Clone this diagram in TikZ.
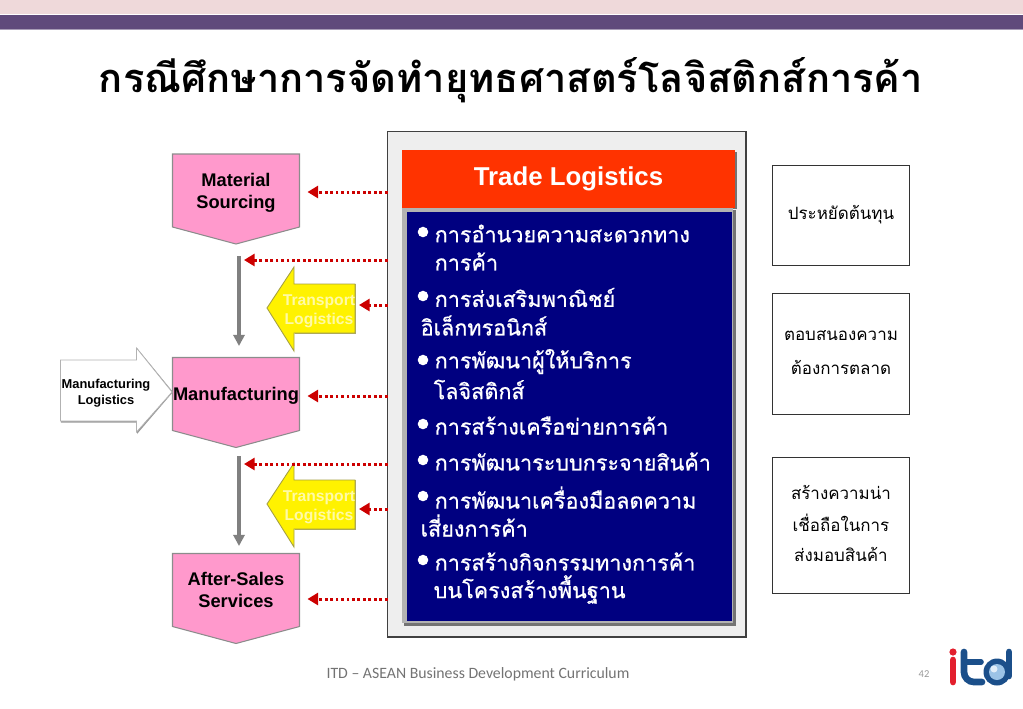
\documentclass[tikz,border=0pt]{standalone}
\usepackage{fontspec}
\setmainfont{Liberation Sans}
\newfontfamily\thaifont[Script=Thai]{Loma}
\newfontfamily\thaiheavy[Script=Thai,FakeBold=0.7]{Loma}
\newfontfamily\footfont{Carlito}
\usetikzlibrary{arrows.meta,calc}
\definecolor{bandpink}{HTML}{EFD9DA}
\definecolor{bandpurple}{HTML}{604A7B}
\definecolor{boxpink}{HTML}{FF99CC}
\definecolor{panelgray}{HTML}{EEEEEE}
\definecolor{headorange}{HTML}{FF3300}
\definecolor{listnavy}{HTML}{000080}
\definecolor{dotred}{HTML}{CC0000}
\definecolor{logoblue}{HTML}{1B4F8A}
\definecolor{logored}{HTML}{E31F2D}
\definecolor{globeblue}{HTML}{9CC3E6}
\tikzset{
	pinkbox/.style={draw=black!45, fill=boxpink, line width=0.3pt},
	pinklabel/.style={align=center, font=\fontsize{5.2}{6.25}\selectfont\bfseries, inner sep=0pt},
	yellowbox/.style={draw=yellow!60!black, fill=yellow, line width=0.25pt},
	yellowlabel/.style={align=center, text=yellow!35!white, font=\fontsize{4.45}{5.5}\selectfont\bfseries, inner sep=0pt},
	dotarrow/.style={draw=dotred, line width=0.85pt, dash pattern=on 0.8pt off 0.75pt, -{Triangle[length=3pt,width=3.4pt,fill=dotred]}},
	grayarrow/.style={draw=black!50, line width=1.15pt, -{Triangle[length=3.2pt,width=3.2pt]}},
	listline/.style={anchor=west, text=white, inner sep=0pt, font=\fontsize{6.14}{8}\selectfont\thaiheavy},
	listdot/.style={circle, fill=white, minimum size=3pt, inner sep=0pt},
	sidebox/.style={draw=black!80, line width=0.25pt, fill=white, inner sep=0pt, anchor=north west},
	sideline/.style={inner sep=0pt, font=\fontsize{4.82}{6}\selectfont\thaifont},
}
\def\pentabox(#1,#2,#3)#4#5{
	\draw[pinkbox] (#1,#2) -- (#1+127,#2) -- (#1+127,#2+73) -- (#1+63.5,#2+90) -- (#1,#2+73) -- cycle;
	\node[pinklabel] (#4) at (#1+63.5,#2+#3) {#5};
}
\def\yellowarrow(#1,#2)#3{
	\fill[yellow!45!black!70] (#1+28,#2-24) -- (#1+89,#2-24) -- (#1+89,#2+26) -- (#1+28,#2+26) -- cycle;
	\draw[yellowbox] (#1,#2) -- (#1+27,#2-41) -- (#1+27,#2-24) -- (#1+88,#2-24) -- (#1+88,#2+25) -- (#1+27,#2+25) -- (#1+27,#2+43) -- cycle;
	\node[yellowlabel] (#3) at (#1+52,#2+3) {Transport\\Logistics};
}
\begin{document}
\begin{tikzpicture}[x=0.01cm,y=-0.01cm]
	\useasboundingbox (0,0) rectangle (1023,708);

	% top bands
	\fill[bandpink] (0,0) rectangle (1023,14);
	\fill[bandpurple] (0,14.5) rectangle (1023,29);
	\fill[bandpurple!55] (0,29) rectangle (1023,30);

	\node[inner sep=0pt, font=\fontsize{11.33}{13}\selectfont\bfseries\thaifont] (title) at (511,80) {กรณีศึกษาการจัดทำยุทธศาสตร์โลจิสติกส์การค้า};

	% center panel
	\draw[fill=panelgray, draw=black!75, line width=0.3pt] (387.5,131.5) rectangle (746,637);
	\node[inner sep=0pt, minimum width=0pt] (panel) at (387.5,384) {};
	\fill[black!55] (404,152) rectangle (737,209);
	\fill[headorange] (401.5,150) rectangle (735,207.5);
	\node[text=white, inner sep=0pt, font=\fontsize{7.34}{9}\selectfont\bfseries] (tradehead) at (568.5,178.5) {Trade Logistics};

	\fill[black!55] (404,210) rectangle (736,626);
	\fill[black!30] (402,208) rectangle (733,623);
	\fill[listnavy] (406.5,212) rectangle (731.5,621);

	% list
	\node[listdot] (dotA) at (423,232) {};
	\node[listline] (lineA) at (434,233.5) {การอำนวยความสะดวกทาง};
	\node[listline] (lineAb) at (434,261.5) {การค้า};
	\node[listdot] (dotB) at (423,296) {};
	\node[listline] (lineB) at (434,297.5) {การส่งเสริมพาณิชย์};
	\node[listline] (lineBb) at (420,325.5) {อิเล็กทรอนิกส์};
	\node[listdot] (dotC) at (423,360) {};
	\node[listline] (lineC) at (434,361.5) {การพัฒนาผู้ให้บริการ};
	\node[listline] (lineCb) at (433,389.5) {โลจิสติกส์};
	\node[listdot] (dotD) at (423,424) {};
	\node[listline] (lineD) at (434,425.5) {การสร้างเครือข่ายการค้า};
	\node[listdot] (dotE) at (423,460) {};
	\node[listline] (lineE) at (434,461.5) {การพัฒนาระบบกระจายสินค้า};
	\node[listdot] (dotF) at (423,496) {};
	\node[listline] (lineF) at (434,497.5) {การพัฒนาเครื่องมือลดความ};
	\node[listline] (lineFb) at (420,525.5) {เสี่ยงการค้า};
	\node[listdot] (dotG) at (423,560) {};
	\node[listline] (lineG) at (434,561.5) {การสร้างกิจกรรมทางการค้า};
	\node[listline] (lineGb) at (433,589.5) {บนโครงสร้างพื้นฐาน};

	% left chain
	\pentabox(172.5,154,39){material}{Material\\Sourcing}
	\pentabox(172.5,357.5,38){manufact}{Manufacturing}
	\pentabox(172.5,553.5,36){aftersales}{After-Sales\\Services}

	\yellowarrow(267,308){transA}
	\yellowarrow(267,504){transB}

	% white arrow
	\fill[black!40] (61,361) -- (137,361) -- (137,348) -- (173,392) -- (137,434) -- (137,422.5) -- (61,422.5) -- cycle;
	\draw[fill=white, draw=black!30, line width=0.2pt] (60.5,360) -- (136.5,360) -- (136.5,348) -- (172,392) -- (136.5,432) -- (136.5,421) -- (60.5,421) -- cycle;
	\node[align=center, inner sep=0pt, font=\fontsize{3.66}{4.5}\selectfont\bfseries] (manlog) at (106,393) {Manufacturing\\Logistics};

	% gray arrows
	\coordinate (grayAtop) at (239,256);
	\coordinate (grayAend) at (239,346);
	\coordinate (grayBtop) at (239,456);
	\coordinate (grayBend) at (239,546);
	\draw[grayarrow] (grayAtop) -- (grayAend);
	\draw[grayarrow] (grayBtop) -- (grayBend);

	% dotted arrows
	\coordinate (tipA) at (307.5,192);
	\coordinate (tipB) at (244,260);
	\coordinate (tipC) at (359,305);
	\coordinate (tipD) at (307.5,396);
	\coordinate (tipE) at (244,464);
	\coordinate (tipF) at (359,509);
	\coordinate (tipG) at (307.5,599);
	\draw[dotarrow] (panel.center |- tipA) -- (tipA);
	\draw[dotarrow] (panel.center |- tipB) -- (tipB);
	\draw[dotarrow] (panel.center |- tipC) -- (tipC);
	\draw[dotarrow] (panel.center |- tipD) -- (tipD);
	\draw[dotarrow] (panel.center |- tipE) -- (tipE);
	\draw[dotarrow] (panel.center |- tipF) -- (tipF);
	\draw[dotarrow] (panel.center |- tipG) -- (tipG);

	% right boxes
	\draw[sidebox] (772,165.5) rectangle (909.5,265.5);
	\draw[sidebox] (772,293) rectangle (909.5,414);
	\draw[sidebox] (772,457) rectangle (909.5,593);
	\node[sideline] (saveA) at (841,215) {ประหยัดต้นทุน};
	\node[sideline] (respA) at (841,336) {ตอบสนองความ};
	\node[sideline] (respB) at (841,367) {ต้องการตลาด};
	\node[sideline] (trustA) at (841,492) {สร้างความน่า};
	\node[sideline] (trustB) at (841,523) {เชื่อถือในการ};
	\node[sideline] (trustC) at (841,554) {ส่งมอบสินค้า};

	% footer
	\node[text=black!55, inner sep=0pt, font=\fontsize{4.49}{5}\selectfont\footfont] (foot) at (478,674.5) {ITD – ASEAN Business Development Curriculum};
	\node[text=black!40, inner sep=0pt, font=\fontsize{3}{4}\selectfont\footfont] (pagenum) at (924,674) {42};

	% logo
	\draw[logored, line width=1.9pt, line cap=round] (953,660) -- (953,682);
	\fill[logored] (953,652) circle (3.6);
	\draw[logoblue, line width=1.9pt, line cap=round] (964,652) -- (964,672) arc (180:90:10) -- (982,682);
	\draw[logoblue, line width=1.6pt, line cap=round] (964,662) -- (981,662);
	\fill[logoblue] (997,672) circle (13.5);
	\fill[globeblue] (997,672) circle (8);
	\fill[white!70!globeblue] (994,669) circle (3.5);
	\draw[logoblue, line width=1.9pt, line cap=round] (1009,652) -- (1009,676);
\end{tikzpicture}
\end{document}
